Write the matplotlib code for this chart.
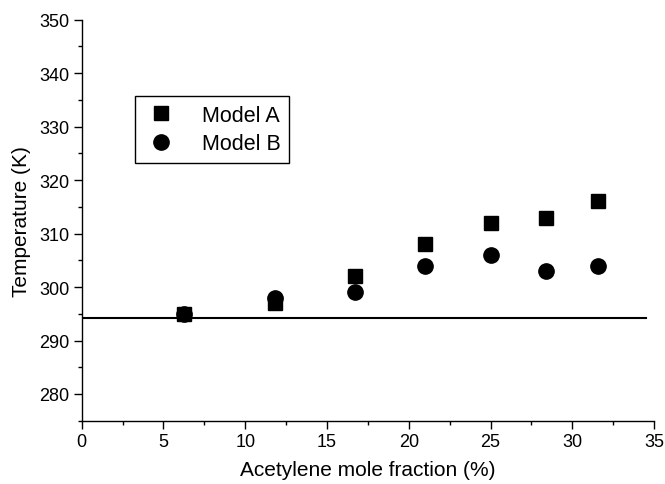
import matplotlib
matplotlib.use("Agg")
import matplotlib.pyplot as plt
from matplotlib.ticker import MultipleLocator

# 数据
x_frac = [6.25, 11.8, 16.7, 21.0, 25.0, 28.4, 31.6]
model_a = [295, 297, 302, 308, 312, 313, 316]
model_b = [295, 298, 299, 304, 306, 303, 304]
ambient_T = 294.3
ambient_x = [0, 34.5]

plt.rcParams["font.family"] = ["Liberation Sans", "DejaVu Sans"]

fig = plt.figure(figsize=(6.65, 4.85), dpi=100)
ax = fig.add_axes([0.1229, 0.1305, 0.8606, 0.8268])

ax.plot(ambient_x, [ambient_T, ambient_T], color="black", lw=1.5, zorder=1)
ax.plot(x_frac, model_a, "s", color="black", ms=10, label="Model A", zorder=3)
ax.plot(x_frac, model_b, "o", color="black", ms=11, label="Model B", zorder=2)

ax.set_xlim(0, 35)
ax.set_ylim(275, 350)
ax.xaxis.set_major_locator(MultipleLocator(5))
ax.xaxis.set_minor_locator(MultipleLocator(2.5))
ax.yaxis.set_major_locator(MultipleLocator(10))
ax.yaxis.set_minor_locator(MultipleLocator(5))
ax.spines["top"].set_visible(False)
ax.spines["right"].set_visible(False)
for s in ("left", "bottom"):
    ax.spines[s].set_linewidth(1.0)
ax.tick_params(which="major", direction="out", length=5.5, width=1, labelsize=13)
ax.tick_params(which="minor", direction="out", length=3, width=1)

ax.set_xlabel("Acetylene mole fraction (%)", fontsize=15, labelpad=7)
ax.set_ylabel("Temperature (K)", fontsize=15, labelpad=6)

leg = ax.legend(loc="upper left", bbox_to_anchor=(0.0931, 0.809), borderaxespad=0,
                fontsize=15.5, frameon=True, fancybox=False, edgecolor="black",
                handlelength=1.6, handletextpad=1.1, borderpad=0.4, labelspacing=0.35,
                numpoints=1)
leg.get_frame().set_linewidth(1.0)
leg.get_frame().set_alpha(1)

fig.savefig("out.png", dpi=100)
